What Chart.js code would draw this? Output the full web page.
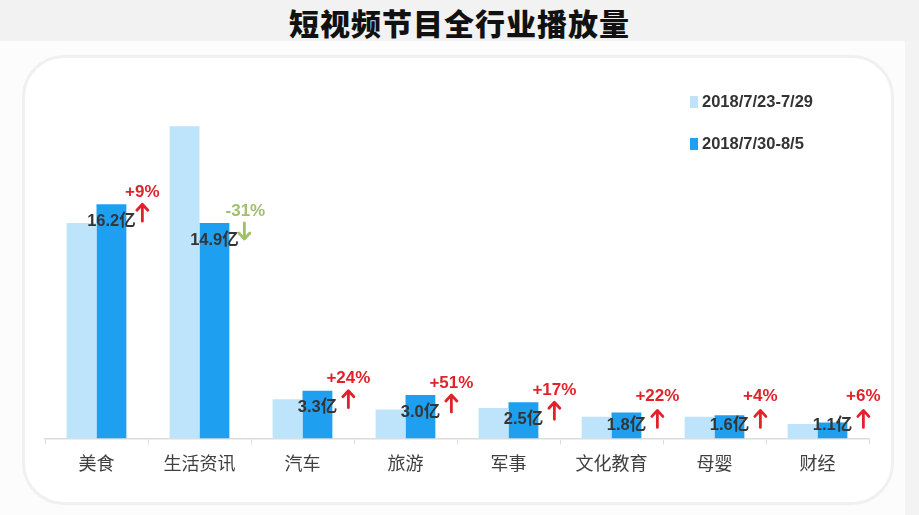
<!DOCTYPE html>
<html>
<head>
<meta charset="utf-8">
<script src="https://cdn.jsdelivr.net/npm/chart.js@4.4.0/dist/chart.umd.min.js"></script>
<style>
  html, body { margin: 0; padding: 0; }
  body { width: 919px; height: 515px; position: relative; overflow: hidden; background: #fcfcfc; font-family: "Liberation Sans", "Noto Sans CJK SC", sans-serif; }
  #header { position: absolute; left: 0; top: 0; width: 919px; height: 41px; background: #f2f2f2; }
  #title { position: absolute; left: 0; top: 0; width: 919px; text-align: center; font: 900 30px "Noto Sans CJK SC", sans-serif; line-height: 45px; color: #111; letter-spacing: 1px; }
  #stripe { position: absolute; left: 905px; top: 41px; width: 14px; height: 474px; background: #f3f3f3; }
  #panel { position: absolute; left: 22px; top: 55px; width: 866px; height: 444px; border: 3px solid #f0f0f0; border-radius: 42px; background: #fff; }
  #wrap { position: absolute; left: 0; top: 0; width: 919px; height: 515px; }
  .leg { position: absolute; left: 690px; font: bold 16.5px "Liberation Sans", sans-serif; color: #333; }
  .leg i { display: inline-block; width: 8px; height: 12px; margin-right: 4px; vertical-align: -1px; }
</style>
</head>
<body>
<div id="header"></div>
<div id="title">短视频节目全行业播放量</div>
<div id="stripe"></div>
<div id="panel"></div>
<div id="wrap"><canvas id="chart" width="919" height="515"></canvas></div>
<div class="leg" id="leg0" style="top:92px"></div>
<div class="leg" id="leg1" style="top:134px"></div>
<script>
const categories = ["美食", "生活资讯", "汽车", "旅游", "军事", "文化教育", "母婴", "财经"];
const seriesNames = ["2018/7/23-7/29", "2018/7/30-8/5"];
const prevWeek = [14.9, 21.6, 2.7, 2.0, 2.1, 1.5, 1.5, 1.0];
const thisWeek = [16.2, 14.9, 3.3, 3.0, 2.5, 1.8, 1.6, 1.1];
const changes = ["+9%", "-31%", "+24%", "+51%", "+17%", "+22%", "+4%", "+6%"];

const lightBlue = "#bde4fa";
const darkBlue = "#1e9ff0";
const upRed = "#e0232b";
const downGreen = "#a2bf6e";

[lightBlue, darkBlue].forEach(function (c, i) {
  document.getElementById("leg" + i).innerHTML = '<i style="background:' + c + '"></i>' + seriesNames[i];
});

function arrow(ctx, x, y0, y1, color) {
  // shaft from y0 to y1, head at y1
  const dir = y1 < y0 ? -1 : 1;
  ctx.save();
  ctx.strokeStyle = color;
  ctx.lineWidth = 2.8;
  ctx.lineCap = "round";
  ctx.lineJoin = "round";
  ctx.beginPath();
  ctx.moveTo(x, y0);
  ctx.lineTo(x, y1 - dir);
  ctx.moveTo(x - 5.5, y1 - dir * 6);
  ctx.lineTo(x, y1);
  ctx.lineTo(x + 5.5, y1 - dir * 6);
  ctx.stroke();
  ctx.restore();
}

const labelPlugin = {
  id: "barLabels",
  afterDatasetsDraw(chart) {
    const ctx = chart.ctx;
    const meta = chart.getDatasetMeta(1);
    const base = chart.scales.y.getPixelForValue(0);
    ctx.save();
    meta.data.forEach(function (bar, i) {
      const top = bar.y;
      ctx.textAlign = "center";
      ctx.textBaseline = "middle";
      ctx.font = "bold 16.5px 'Liberation Sans', 'Noto Sans CJK SC', sans-serif";
      ctx.fillStyle = "#353535";
      ctx.fillText(thisWeek[i].toFixed(1) + "亿", bar.x, Math.min(top + 17, base - 13));

      const px = bar.x + bar.width / 2 + 16;
      const down = changes[i].charAt(0) === "-";
      const color = down ? downGreen : upRed;
      ctx.fillStyle = color;
      ctx.font = "bold 17px 'Liberation Sans', sans-serif";
      const aTop = Math.min(top, base - 28);
      ctx.fillText(changes[i], px, Math.min(top - 12, base - 42));
      if (down) {
        arrow(ctx, px - 1, aTop, aTop + 16, color);
      } else {
        arrow(ctx, px, aTop + 17, aTop, color);
      }
    });
    ctx.restore();
  }
};

new Chart(document.getElementById("chart"), {
  type: "bar",
  data: {
    labels: categories,
    datasets: [
      { label: seriesNames[0], data: prevWeek, backgroundColor: lightBlue, categoryPercentage: 0.58, barPercentage: 1.0 },
      { label: seriesNames[1], data: thisWeek, backgroundColor: darkBlue, categoryPercentage: 0.58, barPercentage: 1.0 }
    ]
  },
  options: {
    responsive: false,
    animation: false,
    layout: { padding: { left: 45, right: 50, top: 77, bottom: 33 } },
    plugins: { legend: { display: false }, tooltip: { enabled: false } },
    scales: {
      x: {
        offset: true,
        border: { color: "#dcdcdc", width: 1.5 },
        grid: { color: "#dcdcdc", drawOnChartArea: false, drawTicks: true, tickLength: 6, offset: true },
        ticks: { color: "#404040", padding: 8, font: { size: 18, family: "'Noto Sans CJK SC', sans-serif" } }
      },
      y: { display: false, min: 0, max: 25 }
    }
  },
  plugins: [labelPlugin]
});
</script>
</body>
</html>
